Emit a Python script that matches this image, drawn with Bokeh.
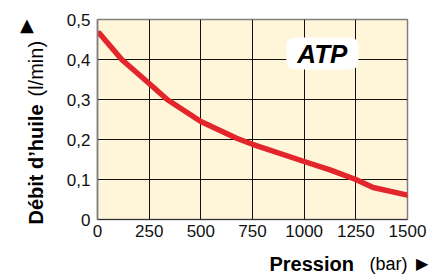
from bokeh.plotting import figure
from bokeh.models import FixedTicker, CustomJSTickFormatter, Label, Range1d
from bokeh.core.properties import value
from bokeh.embed import file_html
from bokeh.resources import INLINE
import math

pressure = [10, 117, 250, 337, 500, 673, 750, 1000, 1125, 1250, 1334, 1500]
flow = [0.465, 0.400, 0.340, 0.300, 0.245, 0.203, 0.188, 0.145, 0.124, 0.100, 0.080, 0.061]
x_ticks = [0, 250, 500, 750, 1000, 1250, 1500]
y_ticks = [0, 0.1, 0.2, 0.3, 0.4, 0.5]
series_name = "ATP"
y_title_bold = "Débit d’huile"
y_title_unit = "(l/min)"
x_title_bold = "Pression"
x_title_unit = "(bar)"

FONT = "Liberation Sans"

p = figure(width=432, height=275, output_backend="svg", toolbar_location=None,
           x_range=Range1d(0, 1500), y_range=Range1d(0, 0.5),
           min_border_left=97, min_border_right=25, min_border_top=19, min_border_bottom=56)
p.background_fill_color = "#fff5d9"
p.border_fill_color = "white"
p.outline_line_color = "#808080"
p.outline_line_width = 1.5

p.xaxis.ticker = FixedTicker(ticks=x_ticks)
p.yaxis.ticker = FixedTicker(ticks=y_ticks)
p.xgrid.ticker = FixedTicker(ticks=x_ticks)
p.ygrid.ticker = FixedTicker(ticks=y_ticks)
for g in (p.xgrid, p.ygrid):
    g.grid_line_color = "#111111"
    g.grid_line_width = 1
    g.grid_line_alpha = 1

p.yaxis.formatter = CustomJSTickFormatter(code="return tick === 0 ? '0' : tick.toFixed(1).replace('.', ',');")
p.xaxis.formatter = CustomJSTickFormatter(code="return tick.toFixed(0);")
for ax in (p.xaxis, p.yaxis):
    ax.major_tick_out = 0
    ax.major_tick_in = 0
    ax.minor_tick_out = 0
    ax.minor_tick_in = 0
    ax.major_label_text_font = FONT
    ax.major_label_text_font_size = "17px"
    ax.major_label_text_color = "#111111"
p.xaxis.axis_line_color = "#333333"
p.yaxis.axis_line_color = "#808080"
p.yaxis.axis_line_width = 1.5
p.yaxis.major_label_standoff = 7
p.xaxis.major_label_standoff = 5

p.line(pressure, flow, line_color="#e3262b", line_width=5.5, line_cap="round", line_join="round")

p.add_layout(Label(x=1088, y=0.415, text=series_name, text_align="center", text_baseline="middle",
                   text_font=FONT, text_font_style="bold italic", text_font_size="26px",
                   text_color="black", background_fill_color="white", border_radius=8,
                   padding=dict(left=11, right=11, top=1, bottom=1)))

# axis titles (drawn as overlay text so they sit outside the frame)
common = dict(level="overlay", text_color="black", text_font=value(FONT))
p.text(x=[-300], y=[-0.0125], text=[y_title_bold], angle=math.pi / 2, text_align="left",
       text_baseline="alphabetic", text_font_style="bold", text_font_size="20px", **common)
p.text(x=[-300], y=[0.3075], text=[y_title_unit], angle=math.pi / 2, text_align="left",
       text_baseline="alphabetic", text_font_size="20px", **common)
p.text(x=[-341], y=[0.487], text=["▲"], text_align="center", text_baseline="middle",
       text_font_size="18px", level="overlay", text_color="black", text_font=value("DejaVu Sans"))

p.text(x=[832], y=[-0.111], text=[x_title_bold], text_align="left", text_baseline="middle",
       text_font_style="bold", text_font_size="20px", **common)
p.text(x=[1316], y=[-0.111], text=[x_title_unit], text_align="left", text_baseline="middle",
       text_font_size="18px", **common)
p.text(x=[1541], y=[-0.109], text=["▶"], text_align="left", text_baseline="middle",
       text_font_size="16px", level="overlay", text_color="black", text_font=value("DejaVu Sans"))

open("out.html", "w").write(file_html(p, INLINE))
